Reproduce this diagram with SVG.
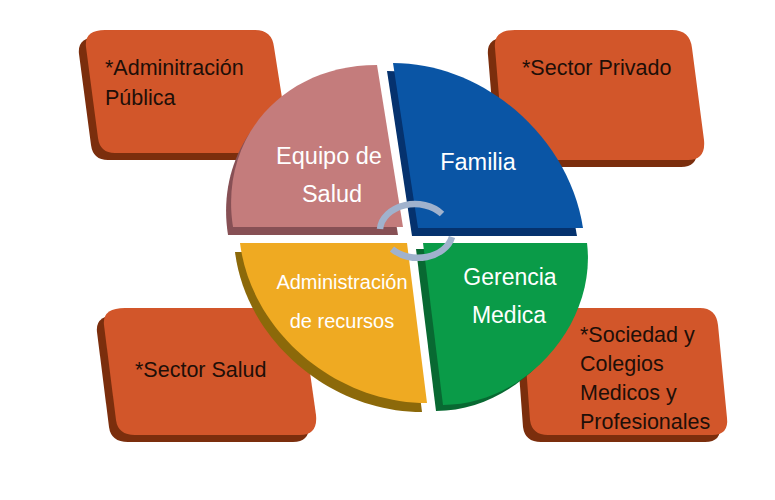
<svg xmlns="http://www.w3.org/2000/svg" width="775" height="500" viewBox="0 0 775 500">
  <style>
    .box{fill:#d2562a}
    .boxsh{fill:#7b2e0d}
    .btxt{font-family:"Liberation Sans",Arial,sans-serif;font-size:21.5px;fill:#1e0f08}
    .wtxt{font-family:"Liberation Sans",Arial,sans-serif;fill:#ffffff;text-anchor:middle}
    .cyc{fill:none;stroke:#a0b2cd;stroke-width:6.5;stroke-linecap:butt}
  </style>
  <defs>
    <path id="bxTL" d="M105,30 L255,30 Q272,30 274,47 L288,136 Q291,153 274,153 L115,153 Q100,153 98,138 L86,47 Q84,30 105,30 Z"/>
    <path id="bxTR" d="M515,30 L672,30 Q690,30 692,48 L704,140 Q706,160 688,160 L520,160 Q505,160 503,145 L495,48 Q493,30 515,30 Z"/>
    <path id="bxBL" d="M125,308 L285,308 Q300,308 303,323 L316,415 Q318,435 300,435 L135,435 Q118,435 116,420 L104,325 Q102,308 125,308 Z"/>
    <path id="bxBR" d="M545,308 L700,308 Q716,308 718,325 L727,418 Q729,435 712,435 L548,435 Q532,435 530,420 L523,325 Q521,308 545,308 Z"/>
    <path id="wgP" d="M403,227 L377,65 C283,65 219,138 233,227 Z"/>
    <path id="wgB" d="M418,228 L393,63 C484,63 569,137 583,228 Z"/>
    <path id="wgY" d="M407,243 L240,243 C251,331 335,403 427,403 Z"/>
    <path id="wgG" d="M423,243 L587,243 C597,324 525,405 443,405 Z"/>
  </defs>

  <g id="box-administracion-publica">
    <use href="#bxTL" class="boxsh" transform="translate(-7,7)"/>
    <use href="#bxTL" class="box"/>
    <text class="btxt" x="105" y="75">*Adminitración</text>
    <text class="btxt" x="105" y="105">Pública</text>
  </g>
  <g id="box-sector-privado">
    <use href="#bxTR" class="boxsh" transform="translate(-7,7)"/>
    <use href="#bxTR" class="box"/>
    <text class="btxt" x="522" y="75">*Sector Privado</text>
  </g>
  <g id="box-sector-salud">
    <use href="#bxBL" class="boxsh" transform="translate(-7,7)"/>
    <use href="#bxBL" class="box"/>
    <text class="btxt" x="135" y="377">*Sector Salud</text>
  </g>
  <g id="box-sociedad">
    <use href="#bxBR" class="boxsh" transform="translate(-7,7)"/>
    <use href="#bxBR" class="box"/>
    <text class="btxt" x="580" y="342">*Sociedad y</text>
    <text class="btxt" x="580" y="371">Colegios</text>
    <text class="btxt" x="580" y="400">Medicos y</text>
    <text class="btxt" x="580" y="429">Profesionales</text>
  </g>

  <g id="wedge-equipo-salud">
    <use href="#wgP" fill="#875055" transform="translate(-5,8)"/>
    <use href="#wgP" fill="#c47c7c"/>
    <text class="wtxt" x="329" y="164" font-size="23.5">Equipo de</text>
    <text class="wtxt" x="332" y="202" font-size="23.5">Salud</text>
  </g>
  <g id="wedge-familia">
    <use href="#wgB" fill="#05326e" transform="translate(-6,8)"/>
    <use href="#wgB" fill="#0a55a5"/>
    <text class="wtxt" x="478" y="170" font-size="23.5">Familia</text>
  </g>
  <g id="wedge-administracion">
    <use href="#wgY" fill="#8c690a" transform="translate(-5,9)"/>
    <use href="#wgY" fill="#efaa22"/>
    <text class="wtxt" x="342" y="289" font-size="20">Administración</text>
    <text class="wtxt" x="342" y="328" font-size="20">de recursos</text>
  </g>
  <g id="wedge-gerencia">
    <use href="#wgG" fill="#086932" transform="translate(-7,6)"/>
    <use href="#wgG" fill="#0a9b48"/>
    <text class="wtxt" x="510" y="285" font-size="23">Gerencia</text>
    <text class="wtxt" x="509" y="323" font-size="23">Medica</text>
  </g>

  <g id="connectors">
    <path class="cyc" d="M380,229 A35 27 0 0 1 442,214"/>
    <path class="cyc" d="M392,249 A35 27 0 0 0 452,237"/>
  </g>
</svg>
